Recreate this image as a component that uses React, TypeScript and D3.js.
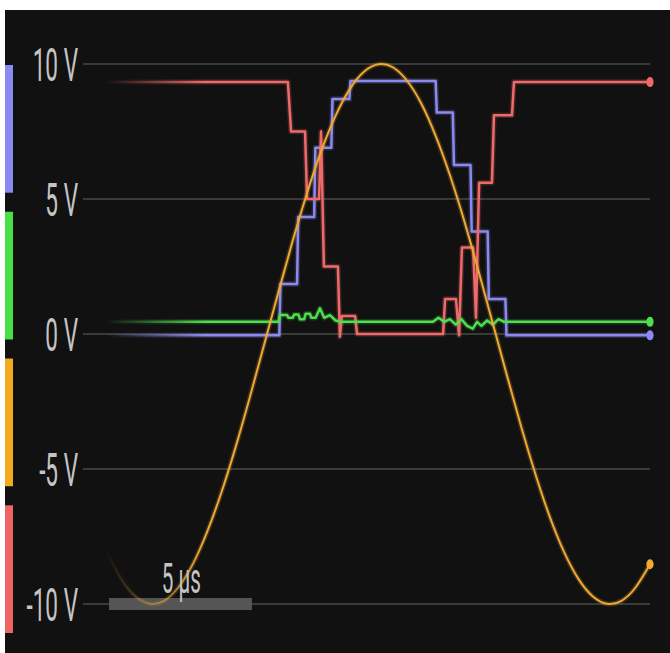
import React, { useRef, useEffect } from 'react';
import * as d3 from 'd3';

// axis ticks (volts)
const voltTicks = [10, 5, 0, -5, -10];

// channel colours, top to bottom in the side strip
const channels = [
  { name: 'blue', color: '#8a8af2' },
  { name: 'green', color: '#48e048' },
  { name: 'orange', color: '#f5aa1e' },
  { name: 'red', color: '#f06464' },
];

// orange sine, one sample every 0.5 µs starting at t = 0
const orangeVolts = [
  -8.09, -9.08, -9.72, -9.99, -9.88, -9.38, -8.53, -7.34, -5.88, -4.19,
  -2.33, -0.39, 1.56, 3.46, 5.22, 6.79, 8.09, 9.08, 9.72, 9.99,
  9.88, 9.38, 8.53, 7.34, 5.88, 4.19, 2.33, 0.39, -1.56, -3.46,
  -5.22, -6.79, -8.09, -9.08, -9.72, -9.99, -9.88, -9.38, -8.53,
];

// [time µs, volts]
const blueSteps: [number, number][] = [
  [0, -0.05], [6.03, -0.05], [6.07, 1.85], [6.65, 1.85], [6.69, 4.33],
  [7.25, 4.33], [7.29, 6.9], [7.85, 6.9], [7.89, 8.7], [8.48, 8.7],
  [8.52, 9.37], [11.5, 9.37], [11.54, 8.2], [12.1, 8.2], [12.14, 6.26],
  [12.72, 6.26], [12.76, 3.8], [13.32, 3.8], [13.36, 1.3], [13.94, 1.3],
  [13.98, -0.05], [19, -0.05],
];

const redSteps: [number, number][] = [
  [0, 9.33], [6.33, 9.33], [6.44, 7.5], [6.93, 7.5], [7.0, 5.0],
  [7.42, 5.0], [7.49, 7.5], [7.59, 2.5], [8.08, 2.5], [8.15, -0.1],
  [8.22, 0.67], [8.68, 0.67], [8.75, 0], [11.76, 0], [11.83, 1.3],
  [12.21, 1.3], [12.32, -0.05], [12.42, 3.2], [12.81, 3.2], [12.91, 0.6],
  [13.02, 5.6], [13.47, 5.6], [13.54, 8.1], [14.17, 8.1], [14.24, 9.33],
  [19, 9.33],
];

const greenTrace: [number, number][] = [
  [0, 0.45], [6.0, 0.45], [6.05, 0.7], [6.3, 0.7], [6.35, 0.6], [6.5, 0.6],
  [6.55, 0.72], [6.7, 0.72], [6.75, 0.55], [6.9, 0.55], [6.95, 0.75],
  [7.1, 0.75], [7.15, 0.6], [7.3, 0.6], [7.45, 0.95], [7.6, 0.6], [7.8, 0.7],
  [8.0, 0.5], [8.2, 0.45], [11.4, 0.45], [11.6, 0.6], [11.8, 0.45],
  [12.0, 0.55], [12.2, 0.35], [12.4, 0.55], [12.6, 0.3], [12.8, 0.2],
  [12.95, 0.45], [13.1, 0.3], [13.3, 0.5], [13.5, 0.35], [13.7, 0.55],
  [13.9, 0.45], [19, 0.45],
];

const scaleBarMicros = 5;

const W = 670;
const H = 653;

const App: React.FC = () => {
  const svgRef = useRef<SVGSVGElement>(null);

  useEffect(() => {
    if (!svgRef.current) return;
    const svg = d3.select(svgRef.current);
    svg.selectAll('*').remove();

    const x = d3.scaleLinear().domain([0, 19]).range([107, 650]);
    const y = d3.scaleLinear().domain([-10, 10]).range([604, 64]);

    // background
    svg.append('rect')
      .attr('x', 5).attr('y', 10)
      .attr('width', W - 5).attr('height', H - 10)
      .attr('fill', '#111111');

    // fade-in mask for the traces
    const defs = svg.append('defs');
    const grad = defs.append('linearGradient')
      .attr('id', 'fade')
      .attr('gradientUnits', 'userSpaceOnUse')
      .attr('x1', 105).attr('x2', 205).attr('y1', 0).attr('y2', 0);
    grad.append('stop').attr('offset', 0).attr('stop-color', 'black');
    grad.append('stop').attr('offset', 1).attr('stop-color', 'white');
    defs.append('mask')
      .attr('id', 'fadeMask')
      .attr('maskUnits', 'userSpaceOnUse')
      .append('rect')
      .attr('x', 0).attr('y', 0).attr('width', W).attr('height', H)
      .attr('fill', 'url(#fade)');

    // side strip
    const strip = d3.scaleBand<string>()
      .domain(channels.map(c => c.name))
      .range([65, 633])
      .paddingInner(0.13);
    svg.append('g')
      .selectAll('rect')
      .data(channels)
      .enter()
      .append('rect')
      .attr('x', 5)
      .attr('y', d => strip(d.name) as number)
      .attr('width', 8)
      .attr('height', strip.bandwidth())
      .attr('fill', d => d.color);

    // grid
    svg.append('g')
      .selectAll('line')
      .data(voltTicks)
      .enter()
      .append('line')
      .attr('x1', 83).attr('x2', 650)
      .attr('y1', d => y(d)).attr('y2', d => y(d))
      .attr('stroke', '#3a3a3a')
      .attr('stroke-width', 2);

    // tick labels, narrow
    svg.append('g')
      .selectAll('text')
      .data(voltTicks)
      .enter()
      .append('text')
      .attr('transform', d => `translate(78,${y(d) + 17}) scale(0.48,1)`)
      .attr('text-anchor', 'end')
      .style('font-family', 'Roboto, sans-serif')
      .style('font-size', '47px')
      .style('fill', '#c4c4c4')
      .text(d => `${d} V`);

    // scale bar
    svg.append('rect')
      .attr('x', x(0) + 2)
      .attr('y', y(-10) - 6)
      .attr('width', x(scaleBarMicros) - x(0))
      .attr('height', 12)
      .attr('fill', '#555555');

    const traces = svg.append('g').attr('mask', 'url(#fadeMask)');

    const stepLine = d3.line<[number, number]>()
      .x(d => x(d[0]))
      .y(d => y(d[1]));

    const sineLine = d3.line<number>()
      .x((d, i) => x(i * 0.5))
      .y(d => y(d))
      .curve(d3.curveNatural);

    const drawTrace = (path: string, color: string, width: number) => {
      traces.append('path')
        .attr('d', path)
        .attr('fill', 'none')
        .attr('stroke', color)
        .attr('stroke-opacity', 0.2)
        .attr('stroke-width', width + 3)
        .attr('stroke-linejoin', 'round');
      traces.append('path')
        .attr('d', path)
        .attr('fill', 'none')
        .attr('stroke', color)
        .attr('stroke-width', width)
        .attr('stroke-linejoin', 'round');
    };

    drawTrace(stepLine(blueSteps) as string, '#8a8af2', 2.5);
    drawTrace(stepLine(redSteps) as string, '#f06a6a', 2.5);
    drawTrace(stepLine(greenTrace) as string, '#4ede4e', 2.5);
    drawTrace(sineLine(orangeVolts) as string, '#eea935', 2);

    // end markers
    const ends = [
      { v: redSteps[redSteps.length - 1][1], color: '#f06a6a' },
      { v: greenTrace[greenTrace.length - 1][1], color: '#4ede4e' },
      { v: blueSteps[blueSteps.length - 1][1], color: '#8a8af2' },
      { v: orangeVolts[orangeVolts.length - 1], color: '#f2a92c' },
    ];
    svg.append('g')
      .selectAll('ellipse')
      .data(ends)
      .enter()
      .append('ellipse')
      .attr('cx', x(19))
      .attr('cy', d => y(d.v))
      .attr('rx', 3.6)
      .attr('ry', 5)
      .attr('fill', d => d.color);

    // scale bar label
    svg.append('text')
      .attr('transform', `translate(${x(2.6)},${y(-10) - 11}) scale(0.48,1)`)
      .attr('text-anchor', 'middle')
      .style('font-family', 'Roboto, sans-serif')
      .style('font-size', '43px')
      .style('fill', '#c4c4c4')
      .text(`${scaleBarMicros} µs`);
  }, []);

  return (
    <div style={{ position: 'absolute', left: 0, top: 0 }}>
      <svg ref={svgRef} width={W} height={H} style={{ display: 'block' }}></svg>
    </div>
  );
};

export default App;
